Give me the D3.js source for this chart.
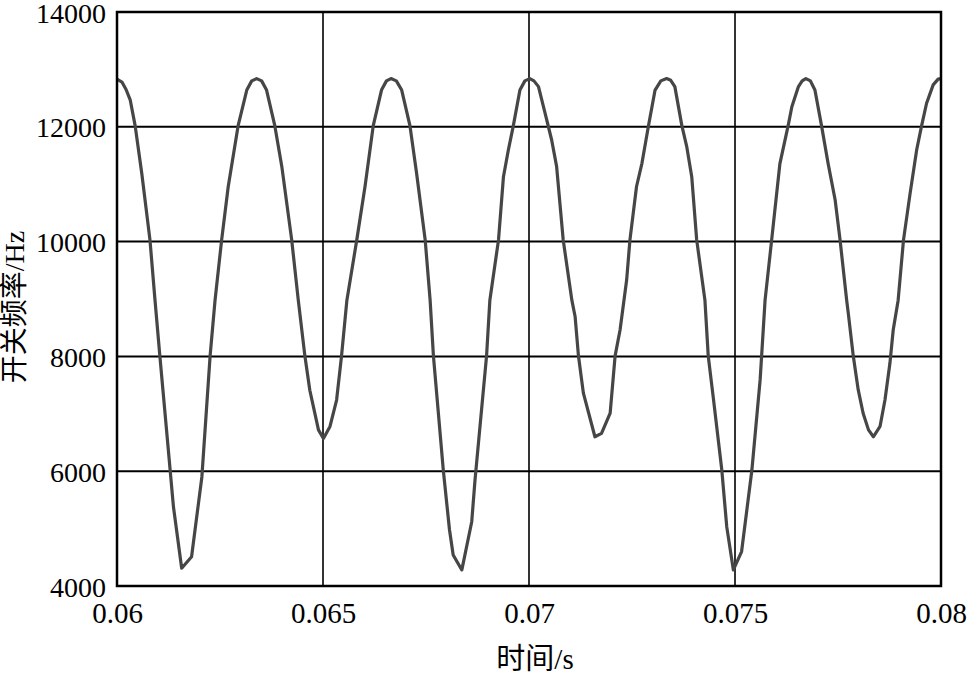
<!DOCTYPE html>
<html><head><meta charset="utf-8">
<script src="https://cdn.jsdelivr.net/npm/d3@7/dist/d3.min.js"></script>
<style>
body{margin:0;background:#fff}svg{display:block}
.serif{font-family:"Liberation Serif","Times New Roman",Times,Tinos,"DejaVu Serif",serif;}
.cjk{font-family:"Liberation Serif","Times New Roman",Times,"Noto Sans CJK SC",serif;}
</style>
</head><body>
<svg id="c" width="969" height="674"></svg>
<script>
const xTicks = [0.06, 0.065, 0.07, 0.075, 0.08];
const xTickLabels = ["0.06", "0.065", "0.07", "0.075", "0.08"];
const yTicks = [4000, 6000, 8000, 10000, 12000, 14000];
const yTickLabels = ["4000", "6000", "8000", "10000", "12000", "14000"];
const xTitle = "时间/s";
const yTitle = "开关频率/Hz";

const time = [
0.06000,0.06012,0.06022,0.06032,0.06044,0.06060,0.06080,0.06092,0.06104,0.06129,0.06137,0.06157,0.06181,0.06206,0.06226,0.06238,0.06254,0.06270,0.06294,0.06315,0.06327,0.06339,0.06351,0.06363,0.06383,0.06400,0.06424,0.06440,0.06456,0.06468,0.06489,0.06501,0.06517,0.06533,0.06545,0.06558,0.06582,0.06602,0.06622,0.06642,0.06654,0.06665,0.06678,0.06691,0.06711,0.06727,0.06748,0.06760,0.06768,0.06792,0.06807,0.06816,0.06837,0.06861,0.06869,0.06897,0.06905,0.06926,0.06938,0.06950,0.06962,0.06978,0.06990,0.07002,0.07012,0.07023,0.07039,0.07055,0.07067,0.07083,0.07104,0.07112,0.07120,0.07132,0.07160,0.07176,0.07197,0.07209,0.07221,0.07237,0.07245,0.07261,0.07274,0.07290,0.07306,0.07320,0.07334,0.07344,0.07354,0.07371,0.07383,0.07395,0.07407,0.07427,0.07435,0.07447,0.07468,0.07480,0.07496,0.07516,0.07541,0.07561,0.07573,0.07589,0.07609,0.07629,0.07638,0.07654,0.07663,0.07672,0.07683,0.07694,0.07710,0.07726,0.07743,0.07755,0.07771,0.07775,0.07787,0.07799,0.07811,0.07824,0.07836,0.07852,0.07864,0.07876,0.07884,0.07896,0.07909,0.07925,0.07941,0.07953,0.07965,0.07981,0.07993,0.08000];
const freq = [
12830,12780,12650,12470,12020,11195,10030,9000,8010,6020,5380,4310,4510,5900,8010,8980,10030,10960,12020,12640,12800,12840,12800,12640,12020,11310,10030,8980,8010,7410,6720,6570,6780,7240,8010,8980,10030,10960,12020,12640,12800,12840,12800,12640,12020,11200,10030,8980,8010,6020,4980,4540,4280,5120,5850,8010,8980,10030,11130,11600,12020,12640,12800,12840,12800,12700,12240,11770,11310,10030,8980,8690,8010,7360,6600,6660,7010,8010,8460,9330,10030,10960,11360,12020,12640,12800,12840,12810,12700,12020,11650,11130,10030,8980,8010,7300,6020,5030,4280,4600,6020,7590,8980,10030,11360,12020,12350,12700,12800,12840,12800,12640,12020,11360,10730,10030,8980,8750,8010,7420,7010,6720,6600,6780,7240,7880,8460,8980,10030,10840,11600,12020,12410,12730,12830,12840];

const svg = d3.select("#c");
const m = {l:117, r:941, t:12, b:586};
const x = d3.scaleLinear().domain([0.06, 0.08]).range([m.l, m.r]);
const y = d3.scaleLinear().domain([4000, 14000]).range([m.b, m.t]);

// grid
const g = svg.append("g");
g.selectAll(".hg").data(yTicks.slice(1,-1)).join("line")
  .attr("x1", m.l).attr("x2", m.r).attr("y1", d=>y(d)).attr("y2", d=>y(d))
  .attr("stroke", "#000").attr("stroke-width", 2);
g.selectAll(".vg").data(xTicks.slice(1,-1)).join("line")
  .attr("y1", m.t).attr("y2", m.b).attr("x1", d=>x(d)).attr("x2", d=>x(d))
  .attr("stroke", "#000").attr("stroke-width", 1.6);

// line
const data = time.map((t,i)=>({t, f:freq[i]}));
svg.append("path").datum(data)
  .attr("fill","none").attr("stroke","#464646").attr("stroke-width",3.2)
  .attr("stroke-linejoin","round")
  .attr("d", d3.line().x(d=>x(d.t)).y(d=>y(d.f)));

// frame
svg.append("rect").attr("x", m.l).attr("y", m.t).attr("width", m.r-m.l).attr("height", m.b-m.t)
  .attr("fill","none").attr("stroke","#000").attr("stroke-width",2.5);

// axes
const xa = svg.append("g").attr("transform",`translate(0,${m.b})`)
  .call(d3.axisBottom(x).tickValues(xTicks).tickFormat((d,i)=>xTickLabels[i]).tickSize(0).tickPadding(0));
xa.attr("font-family", null);
xa.select(".domain").remove();
xa.selectAll("text").attr("class","serif").attr("font-size",29)
  .attr("fill","#000").attr("dy",0).attr("y",37);

const ya = svg.append("g").attr("transform",`translate(${m.l},0)`)
  .call(d3.axisLeft(y).tickValues(yTicks).tickFormat((d,i)=>yTickLabels[i]).tickSize(0).tickPadding(0));
ya.attr("font-family", null);
ya.select(".domain").remove();
ya.selectAll("text").attr("class","serif").attr("font-size",28)
  .attr("fill","#000").attr("x",-11).attr("dy","0.36em");

// titles
svg.append("text").attr("class","cjk").attr("x", 535).attr("y", 669).attr("text-anchor","middle")
  .attr("font-size",29).attr("fill","#000")
  .text(xTitle);
svg.append("text").attr("class","cjk").attr("transform","translate(24,307) rotate(-90)").attr("text-anchor","middle")
  .attr("font-size",28).attr("fill","#000")
  .text(yTitle);
</script>
</body></html>
